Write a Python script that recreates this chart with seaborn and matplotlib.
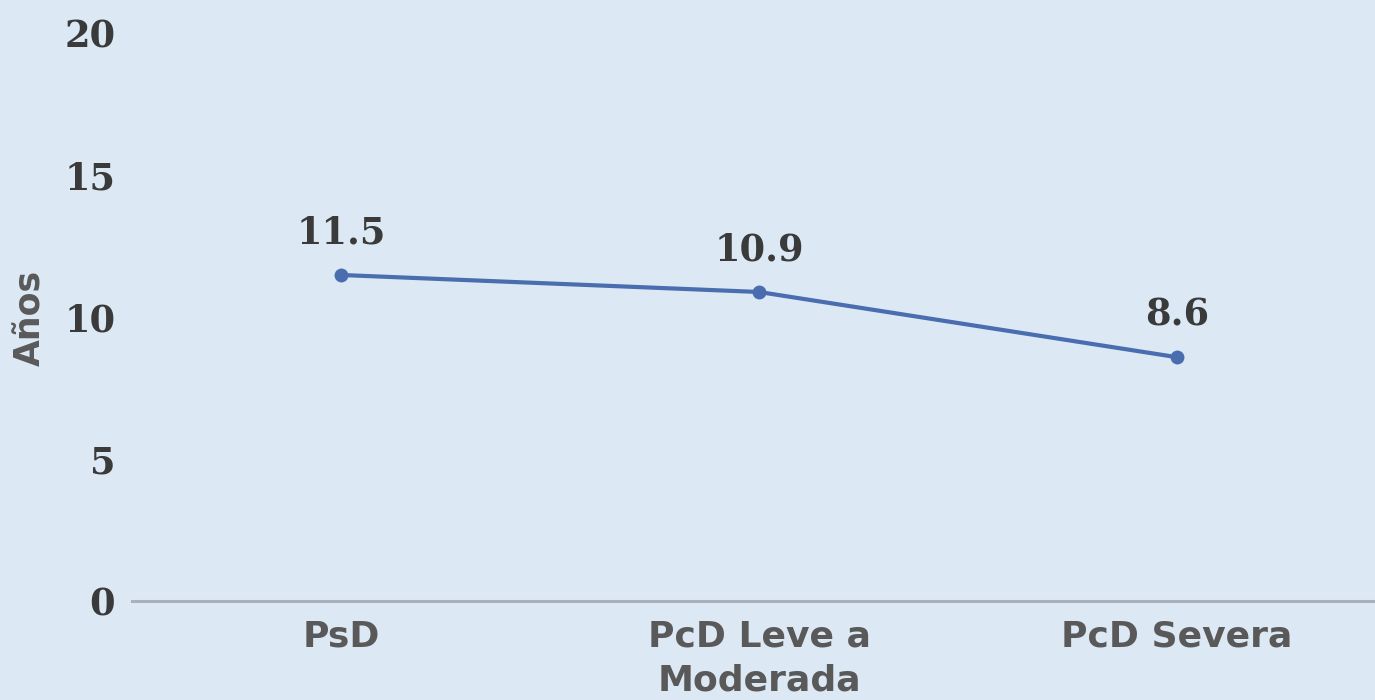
import pandas as pd
import matplotlib.pyplot as plt
import seaborn as sns

categorias = ['PsD', 'PcD Leve a\nModerada', 'PcD Severa']
anios = [11.5, 10.9, 8.6]
etiquetas = ['11.5', '10.9', '8.6']
yticks = [0, 5, 10, 15, 20]

df = pd.DataFrame({'cat': categorias, 'anios': anios})
df['pos'] = range(len(df))

fondo = '#DCE8F4'
sns.set_style('white')
plt.rcParams['font.family'] = ['DejaVu Sans']

fig = plt.figure(figsize=(13.75, 7), dpi=100, facecolor=fondo)
ax = fig.add_axes([132 / 1375, 99 / 700, 1254 / 1375, 567 / 700])
ax.set_facecolor(fondo)

sns.lineplot(data=df, x='pos', y='anios', ax=ax, color='#4A6DB0',
             linewidth=3, marker='o', markersize=10, markeredgewidth=0)

# etiquetas de datos
for i, (v, t) in enumerate(zip(df['anios'], etiquetas)):
    ax.annotate(t, (i, v), xytext=(0, 30), textcoords='offset points',
                ha='center', va='center', fontsize=26.5, fontweight='bold',
                family='DejaVu Serif', color='#3A3A3A')

ax.set_xlim(-0.5, 2.5)
ax.set_ylim(0, 20)
ax.set_xticks(df['pos'])
ax.set_xticklabels(categorias, fontsize=26, fontweight='bold', color='#595959',
                   linespacing=1.4, va='top')
ax.set_yticks(yticks)
ax.set_yticklabels([str(t) for t in yticks], fontsize=26.5, fontweight='bold',
                   family='DejaVu Serif', color='#3A3A3A')
ax.tick_params(axis='both', length=0)
ax.tick_params(axis='x', pad=13)
ax.tick_params(axis='y', pad=12)

ax.set_xlabel('')
ax.set_ylabel('Años', fontsize=25, fontweight='bold', color='#595959', labelpad=12)

for s in ['top', 'right', 'left']:
    ax.spines[s].set_visible(False)
ax.spines['bottom'].set_color('#A9B0B8')
ax.spines['bottom'].set_linewidth(2.2)

plt.savefig('out.png', dpi=100, facecolor=fondo)
